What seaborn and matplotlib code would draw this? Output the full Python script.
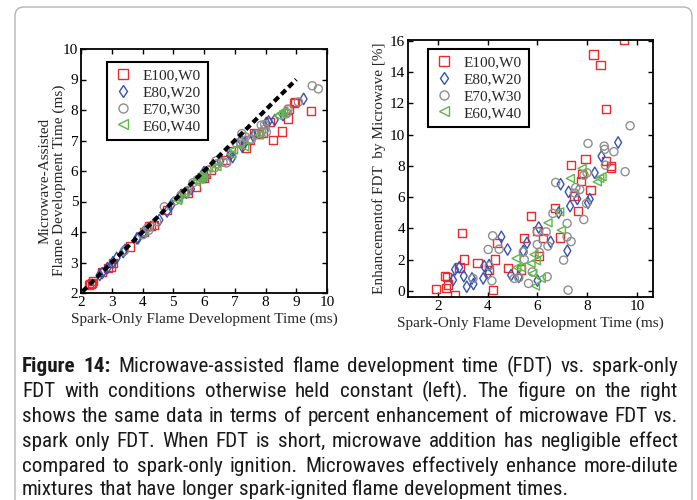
import numpy as np
import pandas as pd
import seaborn as sns
import matplotlib
matplotlib.use("Agg")
import matplotlib.pyplot as plt
from matplotlib.lines import Line2D
from matplotlib.patches import FancyBboxPatch
from matplotlib.transforms import IdentityTransform
from matplotlib import font_manager

# ---------------------------------------------------------------- data
groups = ["E100,W0", "E80,W20", "E70,W30", "E60,W40"]

# spark-only flame development time (ms) and enhancement of FDT by microwave (%)
spark_e100 = [1.92, 2.27, 2.36, 2.31, 2.40, 2.69, 2.97, 3.05, 2.87, 3.59, 4.20, 4.06, 4.29,
              4.37, 4.80, 5.34, 5.47, 5.74, 6.00, 6.05, 6.24, 6.71, 6.89, 7.36, 7.76, 7.79,
              7.93, 7.63, 7.48, 8.13, 8.77, 8.94, 8.97, 8.25, 8.53, 8.74, 9.49]
enh_e100 = [0.09, 0.94, 0.90, 0.15, 0.40, -0.28, 3.72, 2.00, 1.49, 1.79, 0.04, 1.32, 2.00,
            3.07, 1.43, 1.36, 3.35, 4.78, 3.84, 2.22, 3.35, 5.27, 3.41, 8.04, 7.04, 7.46,
            8.42, 5.12, 6.08, 6.44, 8.33, 7.97, 7.85, 15.12, 14.46, 11.65, 16.05]

spark_e80 = [2.61, 2.69, 2.86, 3.04, 3.16, 3.37, 3.43, 3.82, 3.86, 4.06, 4.03, 4.55, 4.80,
             4.94, 5.25, 5.43, 5.58, 6.05, 6.00, 6.53, 6.93, 7.20, 7.25, 7.31, 7.60, 8.03,
             8.10, 8.30, 8.57, 9.24, 6.85]
enh_e80 = [0.68, 1.36, 1.50, 0.94, 0.26, 0.79, 0.43, 0.79, 1.58, 1.64, 1.11, 3.45, 2.64,
           1.00, 0.88, 2.55, 3.07, 4.05, 0.65, 3.13, 6.82, 2.56, 6.33, 5.42, 5.88, 5.63,
           5.86, 7.55, 8.61, 9.49, 5.00]

spark_e70 = [3.41, 4.02, 4.20, 4.17, 4.46, 4.06, 5.07, 5.25, 5.47, 5.64, 5.79, 5.99, 6.08,
             5.99, 6.35, 6.42, 6.39, 6.62, 6.73, 7.05, 7.19, 7.19, 7.35, 7.23, 7.54, 7.50,
             7.70, 7.86, 7.87, 7.97, 8.03, 8.68, 8.70, 9.07, 8.73, 9.52, 9.72, 7.99, 5.43,
             4.71]
enh_e70 = [0.79, 2.64, 3.52, 0.64, 2.66, 1.60, 0.79, 0.83, 2.00, 0.47, 1.20, 2.96, 2.45,
           3.77, 3.77, 2.86, 0.90, 4.95, 6.93, 1.96, 4.31, 3.45, 3.15, 0.04, 6.61, 6.25,
           6.48, 4.56, 7.40, 5.59, 9.43, 9.26, 9.05, 8.90, 8.04, 7.62, 10.56, 7.55, 2.49,
           -2.50]

spark_e60 = [5.14, 5.17, 5.34, 5.74, 5.81, 5.86, 5.95, 5.92, 6.15, 6.42, 6.89, 6.96, 7.32,
             7.79, 8.40, 8.50, 8.59]
enh_e60 = [2.07, 1.49, 1.49, 1.75, 1.11, 2.32, 1.92, 0.30, 0.79, 4.35, 5.05, 3.88, 7.19,
           7.83, 6.97, 7.19, 7.30]

colors = {"E100,W0": "#ee2a2f", "E80,W20": "#3552b0",
          "E70,W30": "#8f8f8f", "E60,W40": "#5db847"}
markers = {"E100,W0": "s", "E80,W20": "d", "E70,W30": "o", "E60,W40": "<"}

frames = []
for name, sp, en in [("E100,W0", spark_e100, enh_e100), ("E80,W20", spark_e80, enh_e80),
                     ("E70,W30", spark_e70, enh_e70), ("E60,W40", spark_e60, enh_e60)]:
    sp = np.asarray(sp, float)
    en = np.asarray(en, float)
    frames.append(pd.DataFrame({
        "mixture": name,
        "spark": sp,
        "enhancement": en,
        # microwave-assisted FDT follows from the percent enhancement
        "microwave": sp * (1.0 - en / 100.0),
    }))
df = pd.concat(frames, ignore_index=True)

# ---------------------------------------------------------------- style
sns.set_style("ticks")
entries = font_manager.fontManager.ttflist
avail = {f.name for f in entries}
serif = "Liberation Serif" if "Liberation Serif" in avail else "DejaVu Serif"
plt.rcParams["font.family"] = [serif, "DejaVu Serif"]
plt.rcParams["axes.edgecolor"] = "black"
plt.rcParams["axes.linewidth"] = 1.3
plt.rcParams["xtick.direction"] = "in"
plt.rcParams["ytick.direction"] = "in"
plt.rcParams["xtick.top"] = True
plt.rcParams["ytick.right"] = True
plt.rcParams["xtick.color"] = "black"
plt.rcParams["ytick.color"] = "black"

W, H = 697, 500
fig = plt.figure(figsize=(W / 100, H / 100), dpi=100)
fig.patch.set_facecolor("white")


def px_axes(x0, y0, x1, y1):
    return fig.add_axes([x0 / W, 1 - y1 / H, (x1 - x0) / W, (y1 - y0) / H])


ax1 = px_axes(81, 49, 327, 293)
ax2 = px_axes(408, 40, 653, 297)


def hollow_scatter(ax, y):
    sns.scatterplot(data=df, x="spark", y=y, hue="mixture", style="mixture",
                    palette=colors, markers=markers, hue_order=groups,
                    style_order=groups, s=34, linewidth=1.0, legend=False, ax=ax)
    for coll in ax.collections:
        fc = coll.get_facecolors()
        coll.set_edgecolors(fc)
        coll.set_facecolors("none")


def legend(ax, anchor):
    handles = [Line2D([], [], linestyle="none", marker=markers[g], markersize=6.5,
                      markerfacecolor="none", markeredgecolor=colors[g],
                      markeredgewidth=1.0, label=g) for g in groups]
    leg = ax.legend(handles=handles, loc="upper left", bbox_to_anchor=anchor,
                    borderaxespad=0, fancybox=False, frameon=True, fontsize=11,
                    handlelength=1.2, handletextpad=0.7, borderpad=0.45,
                    labelspacing=0.2)
    fr = leg.get_frame()
    fr.set_edgecolor("black")
    fr.set_linewidth(1.5)
    fr.set_alpha(1)


# left: microwave-assisted vs spark-only FDT
hollow_scatter(ax1, "microwave")
ref = np.array([2.05, 9.0])
sns.lineplot(x=ref, y=ref, ax=ax1, color="black", linewidth=3.0,
             linestyle=(0, (1.5, 0.9)), legend=False)
ax1.set_xlim(2, 10)
ax1.set_ylim(2, 10)
ax1.set_xticks(range(2, 11))
ax1.set_yticks(range(2, 11))
ax1.set_xlabel("Spark-Only Flame Development Time (ms)", fontsize=11, labelpad=3)
ax1.set_ylabel("Microwave-Assisted\nFlame Development Time (ms)", fontsize=11,
               linespacing=1.05)
ax1.yaxis.set_label_coords(-0.062, 0.46)
legend(ax1, (0.106, 0.947))

# right: percent enhancement vs spark-only FDT
hollow_scatter(ax2, "enhancement")
ax2.set_xlim(0.8, 10.64)
ax2.set_ylim(-0.4, 16.05)
ax2.set_xticks([2, 4, 6, 8, 10])
ax2.set_yticks(range(0, 17, 2))
ax2.set_xlabel("Spark-Only Flame Development Time (ms)", fontsize=11, labelpad=3)
ax2.set_ylabel("Enhancementof FDT  by Microwave [%]", fontsize=11, labelpad=3)
legend(ax2, (0.082, 0.965))

for ax in (ax1, ax2):
    ax.tick_params(labelsize=11, length=3.5, width=1.0, pad=2)
    for sp in ax.spines.values():
        sp.set_visible(True)
        sp.set_linewidth(1.3)

# ---------------------------------------------------------------- frame
frame = FancyBboxPatch((15, -40), 677, H - 7 + 40, boxstyle="round,pad=0,rounding_size=9",
                       transform=IdentityTransform(), facecolor="none",
                       edgecolor="#b5b5b5", linewidth=1.0)
fig.patches.append(frame)

# ---------------------------------------------------------------- caption font
def weight_num(w):
    if isinstance(w, (int, float)):
        return int(w)
    return {"bold": 700, "semibold": 600, "demibold": 600, "heavy": 800,
            "black": 900, "extra bold": 800}.get(str(w).lower(), 400)


def has_bold(name):
    return any(f.name == name and weight_num(f.weight) >= 600 for f in entries)


preferred = ["Liberation Sans Narrow", "Arial Narrow", "Roboto Condensed",
             "Open Sans Condensed", "Noto Sans Condensed"]
narrow = [n for n in avail if ("Narrow" in n or "Condensed" in n) and "Serif" not in n
          and "Mono" not in n]
narrow.sort(key=lambda n: (preferred.index(n) if n in preferred else 99,
                           0 if has_bold(n) else 1, n))
sans = narrow[0] if narrow else "Liberation Sans"
if sans not in avail:
    sans = "DejaVu Sans"
if has_bold(sans):
    bold_family = sans
elif sans + " Bold" in avail:
    bold_family = sans + " Bold"
else:
    bold_family = next((n for n in narrow if has_bold(n)), "Liberation Sans")

caption = [
    "Figure 14: Microwave-assisted flame development time (FDT) vs. spark-only",
    "FDT with conditions otherwise held constant (left). The figure on the right",
    "shows the same data in terms of percent enhancement of microwave FDT vs.",
    "spark only FDT. When FDT is short, microwave addition has negligible effect",
    "compared to spark-only ignition. Microwaves effectively enhance more-dilute",
    "mixtures that have longer spark-ignited flame development times.",
]
baselines = [372, 397, 422, 447, 472, 495]
x_left, x_right = 22, 678

fig.canvas.draw()
renderer = fig.canvas.get_renderer()


def make_word(s, size, bold):
    return fig.text(0, 0, s, fontsize=size,
                    family=[bold_family if bold else sans, "DejaVu Sans"],
                    fontweight="bold" if bold else "normal", color="#1a1a1a",
                    va="baseline", ha="left")


def line_width(i, line, size):
    total = 0.0
    words = line.split(" ")
    for j, w in enumerate(words):
        t = make_word(w, size, i == 0 and j < 2)
        total += t.get_window_extent(renderer).width
        t.remove()
    t = make_word("a a", size, False)
    sp = t.get_window_extent(renderer).width
    t.remove()
    t = make_word("aa", size, False)
    sp -= t.get_window_extent(renderer).width
    t.remove()
    return total + sp * (len(words) - 1), sp


# largest size (up to the body size) at which every line fits with a normal word gap
probe = 10.0
widest = max(line_width(i, line, probe)[0] for i, line in enumerate(caption))
cap_size = min(15.2, probe * (x_right - x_left - 2) / widest)
space = line_width(0, "a", cap_size)[1]

for i, (line, yy) in enumerate(zip(caption, baselines)):
    words = line.split(" ")
    texts = []
    for j, w in enumerate(words):
        t = make_word(w, cap_size, i == 0 and j < 2)
        t.set_y(1 - yy / H)
        texts.append(t)
    widths = [t.get_window_extent(renderer).width for t in texts]
    if i < len(caption) - 1:
        gap = (x_right - x_left - sum(widths)) / (len(words) - 1)
    else:
        gap = space
    x = x_left
    for t, w in zip(texts, widths):
        t.set_x(x / W)
        x += w + gap

fig.savefig("out.png", dpi=100, facecolor="white")
